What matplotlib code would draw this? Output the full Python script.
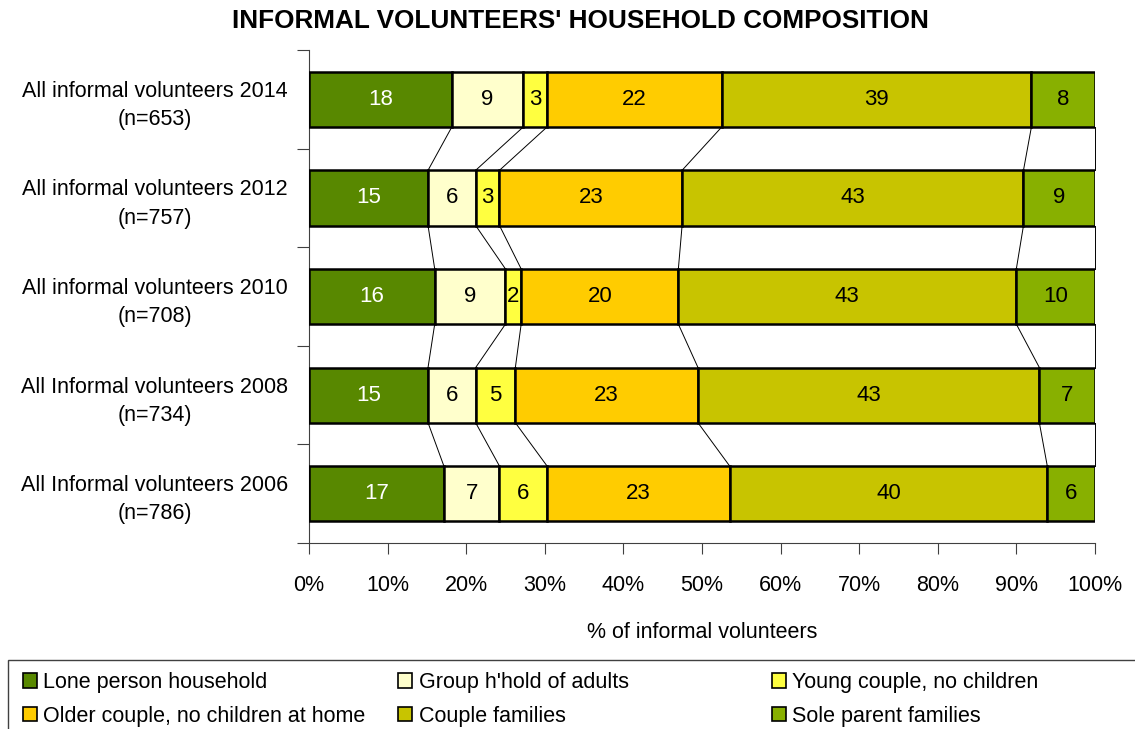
import matplotlib
matplotlib.use("Agg")
import matplotlib.pyplot as plt
import numpy as np
from matplotlib.patches import Patch, Rectangle

plt.rcParams["font.family"] = ["Liberation Sans", "DejaVu Sans"]

categories = [
    "All informal volunteers 2014\n(n=653)",
    "All informal volunteers 2012\n(n=757)",
    "All informal volunteers 2010\n(n=708)",
    "All Informal volunteers 2008\n(n=734)",
    "All Informal volunteers 2006\n(n=786)",
]
series = [
    "Lone person household",
    "Group h'hold of adults",
    "Young couple, no children",
    "Older couple, no children at home",
    "Couple families",
    "Sole parent families",
]
lone = [18, 15, 16, 15, 17]
group = [9, 6, 9, 6, 7]
young = [3, 3, 2, 5, 6]
older = [22, 23, 20, 23, 23]
couple = [39, 43, 43, 43, 40]
sole = [8, 9, 10, 7, 6]

colors = ["#588800", "#FFFFCC", "#FFFF40", "#FFCC00", "#C8C400", "#88B000"]
text_colors = ["white", "black", "black", "black", "black", "black"]

values = np.array([lone, group, young, older, couple, sole], dtype=float)
shares = values / values.sum(axis=0) * 100
ends = np.cumsum(shares, axis=0)
starts = ends - shares

fig = plt.figure(figsize=(11.35, 7.29), dpi=100)
ax = fig.add_axes([0.2722, 0.2551, 0.6925, 0.6763])

y = np.arange(len(categories))
h = 0.56
for k in range(len(series)):
    ax.barh(y, shares[k], left=starts[k], height=h, color=colors[k],
            edgecolor="black", linewidth=1.8, label=series[k], zorder=3)
    for i in range(len(categories)):
        ax.text(starts[k, i] + shares[k, i] / 2, y[i], f"{values[k, i]:.0f}",
                ha="center", va="center", fontsize=16, color=text_colors[k], zorder=4)

# series lines between bars
for k in range(len(series)):
    for i in range(len(categories) - 1):
        ax.plot([ends[k, i], ends[k, i + 1]], [y[i] + h / 2, y[i + 1] - h / 2],
                color="black", linewidth=0.7, zorder=2, clip_on=False)

ax.set_xlim(0, 100)
ax.set_ylim(len(categories) - 0.5, -0.5)
ax.set_xticks(np.arange(0, 101, 10))
ax.set_xticklabels([f"{v}%" for v in range(0, 101, 10)], fontsize=15.5)
ax.set_yticks(np.arange(-0.5, len(categories), 1.0))
ax.set_yticklabels([])
ax.set_yticks(y, minor=True)
ax.set_yticklabels(categories, minor=True, fontsize=15.5, ha="center", linespacing=1.45)
ax.tick_params(axis="y", which="minor", length=0, pad=111)
ax.tick_params(axis="y", which="major", length=9, width=0.8, color="#404040")
ax.tick_params(axis="x", length=8, width=0.8, color="#404040", pad=15)
ax.set_xlabel("% of informal volunteers", fontsize=15.5, labelpad=19)
for s in ["top", "right"]:
    ax.spines[s].set_visible(False)
for s in ["left", "bottom"]:
    ax.spines[s].set_color("#404040")
    ax.spines[s].set_linewidth(0.8)

fig.text(0.511, 0.971, "INFORMAL VOLUNTEERS' HOUSEHOLD COMPOSITION",
         ha="center", va="center", fontsize=18.8, fontweight="bold")

# legend: three columns, two rows, inside one box
fig.patches.append(Rectangle((0.007, -0.01), 1.2, 0.104, transform=fig.transFigure,
                             fill=False, edgecolor="#404040", linewidth=1.0))
col_x = [0.020, 0.351, 0.680]
order = [[0, 3], [1, 4], [2, 5]]
for cx, idx in zip(col_x, order):
    handles = [Patch(facecolor=colors[j], edgecolor="black", linewidth=1.2) for j in idx]
    fig.legend(handles, [series[j] for j in idx], loc="upper left",
               bbox_to_anchor=(cx, 0.078), frameon=False, fontsize=15.5,
               handlelength=0.65, handleheight=0.65, handletextpad=0.3,
               labelspacing=0.58, borderaxespad=0, borderpad=0)

fig.savefig("out.png", dpi=100)
